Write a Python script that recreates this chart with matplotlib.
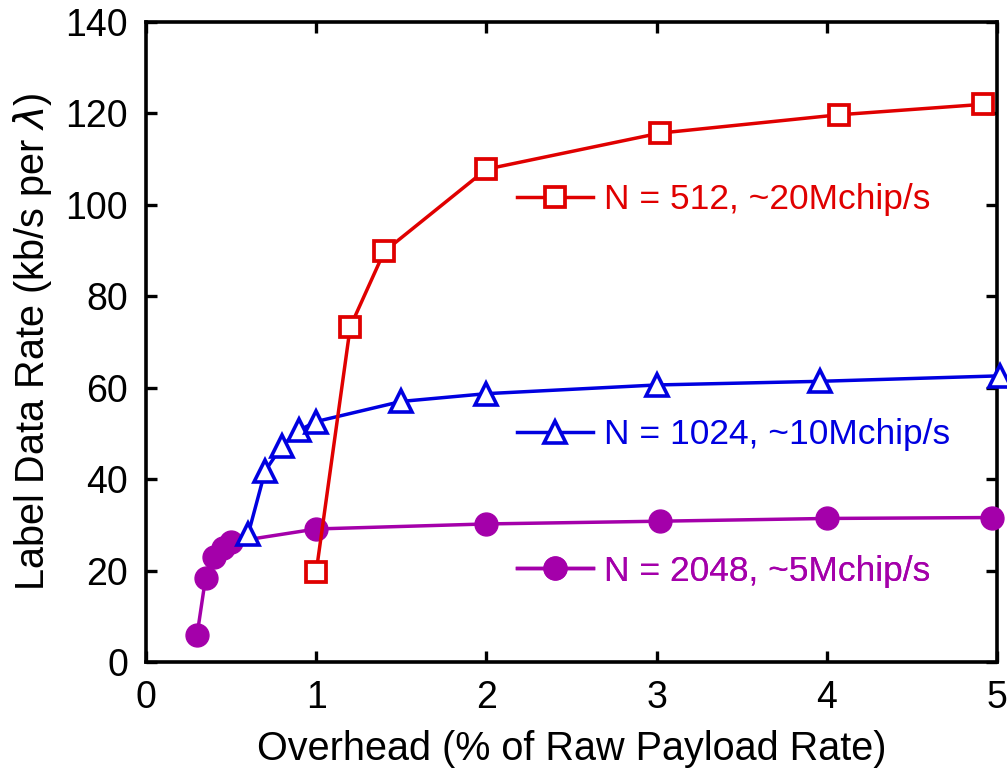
import matplotlib
matplotlib.use("Agg")
import matplotlib.pyplot as plt

plt.rcParams['font.family'] = ['Liberation Sans', 'DejaVu Sans']
plt.rcParams['mathtext.fontset'] = 'dejavusans'

# Overhead (% of raw payload rate) vs. label data rate (kb/s per wavelength)
x_512 = [1.0, 1.2, 1.4, 2.0, 3.02, 4.07, 4.92]
y_512 = [19.7, 73.3, 89.8, 107.8, 115.7, 119.7, 122.0]

x_1024 = [0.6, 0.7, 0.8, 0.9, 1.0, 1.5, 2.0, 3.0, 3.96, 5.02]
y_1024 = [27.9, 41.8, 47.3, 50.7, 52.6, 57.0, 58.7, 60.6, 61.4, 62.6]

x_2048 = [0.3, 0.35, 0.4, 0.45, 0.5, 1.0, 2.0, 3.02, 4.0, 4.97]
y_2048 = [5.9, 18.4, 22.9, 25.0, 26.2, 29.1, 30.2, 30.8, 31.4, 31.6]

labels = ["N = 512, ~20Mchip/s", "N = 1024, ~10Mchip/s", "N = 2048, ~5Mchip/s"]
colors = ["#e00000", "#0000e0", "#a400aa"]

x_ticks = [0, 1, 2, 3, 4, 5]
y_ticks = [0, 20, 40, 60, 80, 100, 120, 140]

fig = plt.figure(figsize=(10.07, 7.70), dpi=100)
ax = fig.add_axes([146 / 1007, 108 / 770, 851 / 1007, 640 / 770])

lw = 2.5
h_2048, = ax.plot(x_2048, y_2048, color=colors[2], lw=lw, marker='o', ms=16.5,
                  mfc=colors[2], mec=colors[2], clip_on=False, zorder=3)
h_1024, = ax.plot(x_1024, y_1024, color=colors[1], lw=lw, marker='^', ms=16,
                  mfc='white', mec=colors[1], mew=2.6, clip_on=False, zorder=4)
h_512, = ax.plot(x_512, y_512, color=colors[0], lw=lw, marker='s', ms=15,
                 mfc='white', mec=colors[0], mew=2.7, clip_on=False, zorder=5)

ax.set_xlim(0, 5)
ax.set_ylim(0, 140)
ax.set_xticks(x_ticks)
ax.set_yticks(y_ticks)
ax.tick_params(direction='in', length=8, width=2.4, top=True, right=True,
               labelsize=27, pad=13)
for s in ax.spines.values():
    s.set_linewidth(2.6)

ax.set_xlabel("Overhead (% of Raw Payload Rate)", fontsize=28.5, labelpad=10)
ax.set_ylabel(r"Label Data Rate (kb/s per $\lambda$)", fontsize=28.5, labelpad=8)

# One legend entry per curve, placed beside each curve
entries = [(h_512, labels[0], colors[0], 0.722),
           (h_1024, labels[1], colors[1], 0.355),
           (h_2048, labels[2], colors[2], 0.142)]
for handle, text, col, ypos in entries:
    leg = ax.legend([handle], [text], loc='center left',
                    bbox_to_anchor=(0.436, ypos), frameon=False,
                    fontsize=25.5, handlelength=2.15, handletextpad=0.3,
                    borderpad=0, borderaxespad=0, numpoints=1)
    for t in leg.get_texts():
        t.set_color(col)
    ax.add_artist(leg)

fig.savefig("out.png", dpi=100)
